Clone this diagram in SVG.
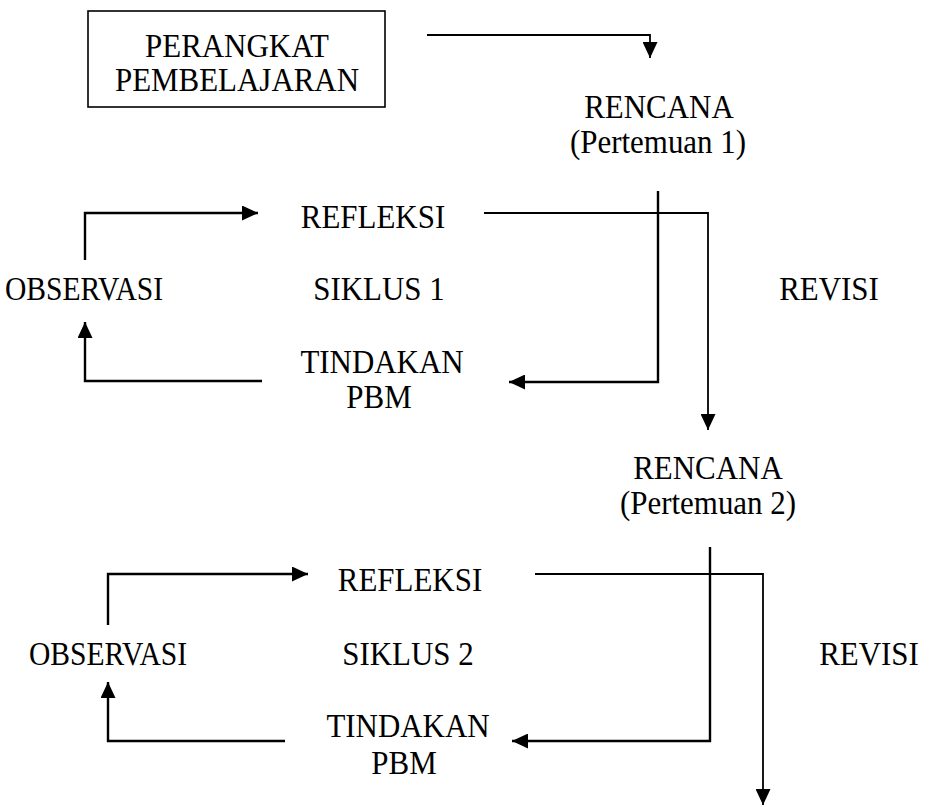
<svg xmlns="http://www.w3.org/2000/svg" width="931" height="807" viewBox="0 0 931 807">
<style>
text{font-family:"Liberation Serif","Times New Roman",serif;font-size:34px;fill:#000;text-anchor:middle}
.ln{fill:none;stroke:#000;stroke-width:2.4}
.th{fill:none;stroke:#000;stroke-width:1.8}
</style>
<defs>
<marker id="a" viewBox="0 0 16 15" refX="16" refY="7.5" markerWidth="16" markerHeight="15" orient="auto" markerUnits="userSpaceOnUse">
<path d="M0,0 L16,7.5 L0,15 Z" fill="#000"/>
</marker>
</defs>
<g id="perangkat">
<rect x="88" y="11" width="297" height="96" fill="none" stroke="#000" stroke-width="1.6"/>
<text transform="matrix(.91 0 0 1 237 0)" y="57">PERANGKAT</text>
<text transform="matrix(.91 0 0 1 237 0)" y="91">PEMBELAJARAN</text>
</g>
<g id="rencana1"><text transform="matrix(.91 0 0 1 659 0)" y="118">RENCANA</text><text transform="matrix(.91 0 0 1 658 0)" y="153">(Pertemuan 1)</text></g>
<g id="refleksi1"><text transform="matrix(.91 0 0 1 373 0)" y="228">REFLEKSI</text></g>
<g id="observasi1"><text transform="matrix(.87 0 0 1 84 0)" y="300">OBSERVASI</text></g>
<g id="siklus1"><text transform="matrix(.91 0 0 1 379 0)" y="300">SIKLUS 1</text></g>
<g id="revisi1"><text transform="matrix(.91 0 0 1 829 0)" y="300">REVISI</text></g>
<g id="tindakan1"><text transform="matrix(.91 0 0 1 382 0)" y="373">TINDAKAN</text><text transform="matrix(.91 0 0 1 379 0)" y="408">PBM</text></g>
<g id="rencana2"><text transform="matrix(.91 0 0 1 708 0)" y="479">RENCANA</text><text transform="matrix(.91 0 0 1 708 0)" y="514">(Pertemuan 2)</text></g>
<g id="refleksi2"><text transform="matrix(.91 0 0 1 410 0)" y="591">REFLEKSI</text></g>
<g id="observasi2"><text transform="matrix(.87 0 0 1 108 0)" y="665">OBSERVASI</text></g>
<g id="siklus2"><text transform="matrix(.91 0 0 1 408 0)" y="665">SIKLUS 2</text></g>
<g id="revisi2"><text transform="matrix(.91 0 0 1 869 0)" y="665">REVISI</text></g>
<g id="tindakan2"><text transform="matrix(.91 0 0 1 408 0)" y="737">TINDAKAN</text><text transform="matrix(.91 0 0 1 404 0)" y="774">PBM</text></g>
<g id="connectors">
<path class="th" d="M427,35 H650 V58" marker-end="url(#a)"/>
<path class="ln" d="M658,191 V382 H509" marker-end="url(#a)"/>
<path class="th" d="M484,213 H708 V430" marker-end="url(#a)"/>
<path class="ln" d="M85,260 V213 H258" marker-end="url(#a)"/>
<path class="ln" d="M262,381 H85 V322" marker-end="url(#a)"/>
<path class="ln" d="M710,547 V741 H512" marker-end="url(#a)"/>
<path class="th" d="M535,574 H763 V805" marker-end="url(#a)"/>
<path class="ln" d="M108,625 V574 H308" marker-end="url(#a)"/>
<path class="ln" d="M285,741 H108 V682" marker-end="url(#a)"/>
</g>
</svg>
